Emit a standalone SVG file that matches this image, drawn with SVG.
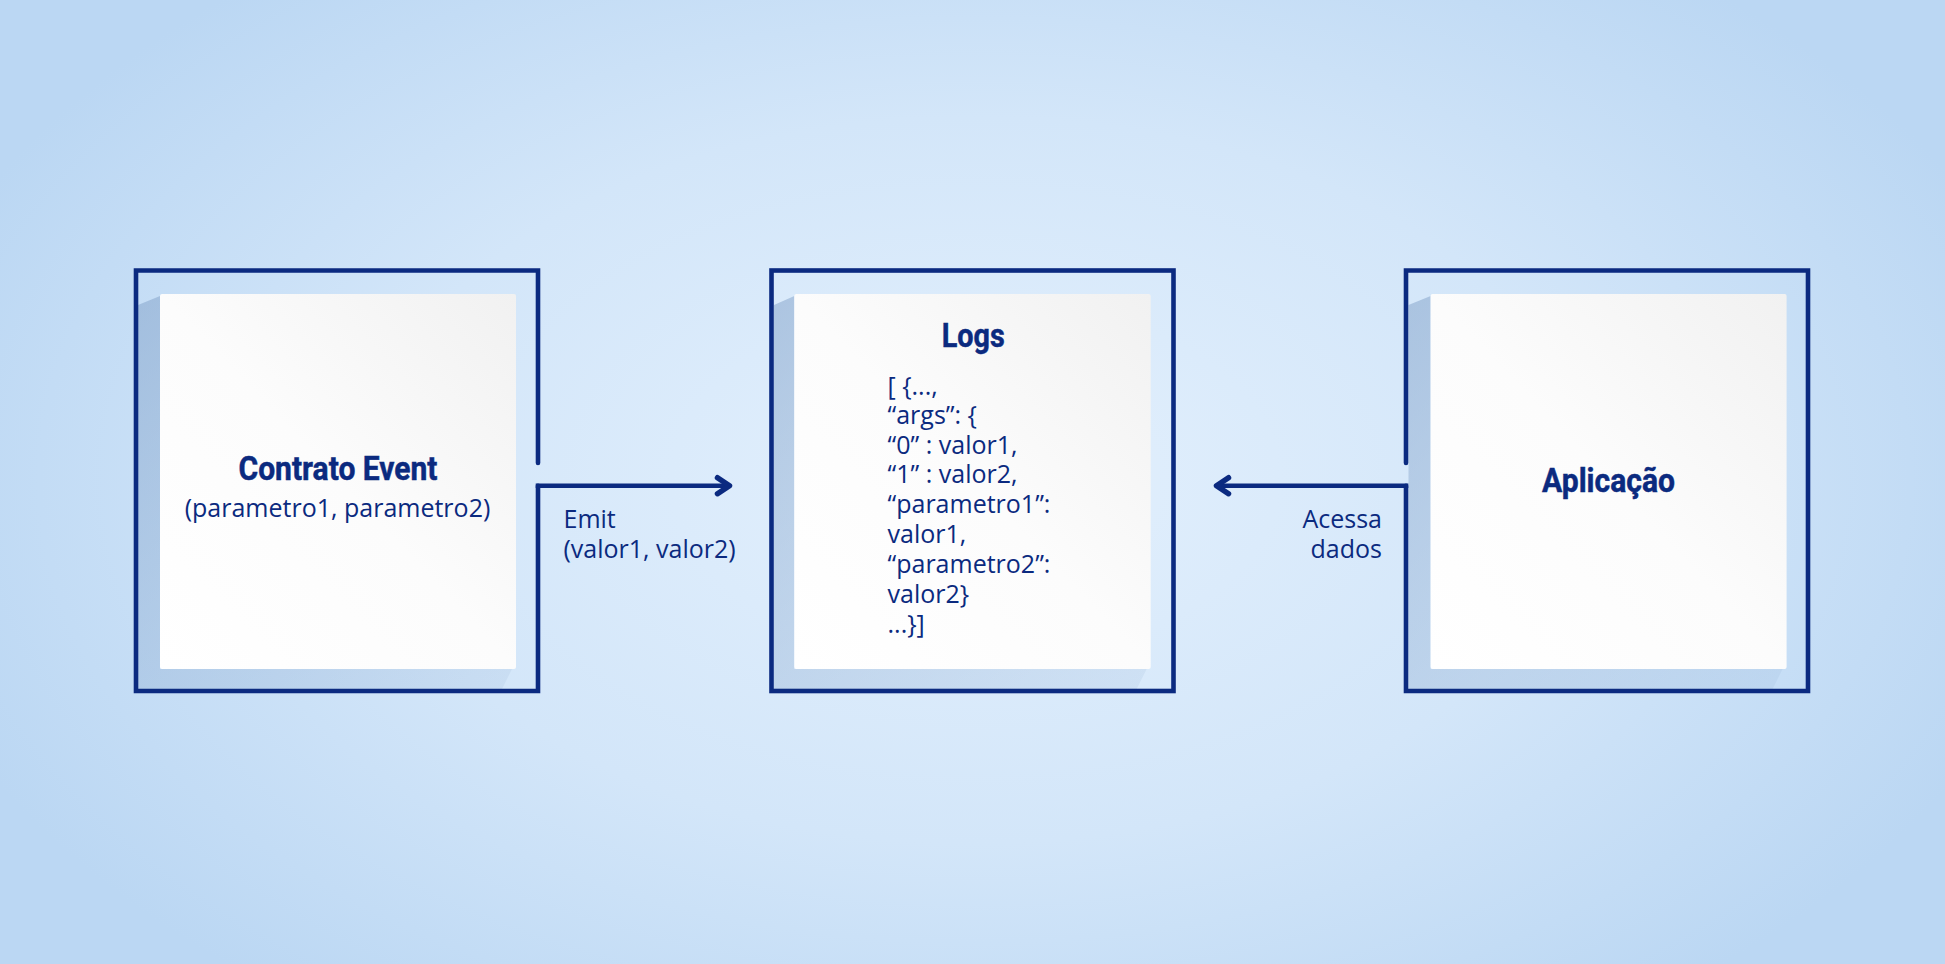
<svg xmlns="http://www.w3.org/2000/svg" width="1945" height="964" viewBox="0 0 1945 964">
<style>
.frame{fill:none;stroke:#0b2a80;stroke-width:4.6;stroke-linejoin:miter;stroke-linecap:round}
.conn{fill:none;stroke:#0b2a80;stroke-width:4.6;stroke-linecap:butt}
.head{fill:none;stroke:#0b2a80;stroke-width:5.5;stroke-linecap:round;stroke-linejoin:round}
.title{font-family:Roboto,"Liberation Sans",sans-serif;font-weight:700;font-size:34px;fill:#0b2a7f;text-anchor:middle;stroke:#0b2a7f;stroke-width:0.5}
.txt{font-family:"Open Sans","Noto Sans",sans-serif;font-size:25px;fill:#0b2a7f}
.card{fill:url(#cardG)}
.shadow{fill:url(#shG)}
</style>
<defs>
<radialGradient id="bg" gradientUnits="userSpaceOnUse" cx="975" cy="480" r="1100" gradientTransform="translate(975 480) scale(1 0.6) translate(-975 -480)">
<stop offset="0" stop-color="#e3f0fd"/>
<stop offset="0.55" stop-color="#d3e6f9"/>
<stop offset="1" stop-color="#bbd7f3"/>
</radialGradient>
<linearGradient id="cardG" x1="0" y1="1" x2="1" y2="0">
<stop offset="0" stop-color="#ffffff"/>
<stop offset="0.5" stop-color="#fcfcfc"/>
<stop offset="1" stop-color="#f1f1f1"/>
</linearGradient>
<linearGradient id="shG" x1="0" y1="0" x2="1" y2="1">
<stop offset="0" stop-color="#7f9fc7" stop-opacity="0.5"/>
<stop offset="0.5" stop-color="#7f9fc7" stop-opacity="0.28"/>
<stop offset="1" stop-color="#7f9fc7" stop-opacity="0.12"/>
</linearGradient>
</defs>
<rect width="1945" height="964" fill="url(#bg)"/>

<g id="node-contrato">
<path class="shadow" d="M160,296 L138,305 L138,689 L502,689 L512,669 L160,669 Z"/>
<rect class="card" x="160" y="294" width="356" height="375" rx="2"/>
<path class="frame" d="M538,463 V270.5 H136 V691 H538 V485.7"/>
<text class="title" x="338" y="480" textLength="199" lengthAdjust="spacingAndGlyphs">Contrato Event</text>
<text class="txt" x="337.5" y="516.7" text-anchor="middle">(parametro1, parametro2)</text>
</g>

<g id="node-logs">
<path class="shadow" d="M794.3,296 L774,305 L774,689 L1136.7,689 L1146.7,669 L794.3,669 Z"/>
<rect class="card" x="794.3" y="294" width="356.4" height="375" rx="2"/>
<rect class="frame" x="771.5" y="270.5" width="402" height="420.5"/>
<text class="title" x="973.3" y="346.7" textLength="63" lengthAdjust="spacingAndGlyphs">Logs</text>
<text class="txt" x="887.5">
<tspan x="887.5" y="395">[ {...,</tspan>
<tspan x="887.5" y="423.8">“args”: {</tspan>
<tspan x="887.5" y="453.5">“0” : valor1,</tspan>
<tspan x="887.5" y="483.4">“1” : valor2,</tspan>
<tspan x="887.5" y="513.4">“parametro1”:</tspan>
<tspan x="887.5" y="543.4">valor1,</tspan>
<tspan x="887.5" y="573.4">“parametro2”:</tspan>
<tspan x="887.5" y="603.4">valor2}</tspan>
<tspan x="887.5" y="633.4">...}]</tspan>
</text>
</g>

<g id="node-aplicacao">
<path class="shadow" d="M1430.6,296 L1408.5,305 L1408.5,689 L1772.6,689 L1782.6,669 L1430.6,669 Z"/>
<rect class="card" x="1430.6" y="294" width="356" height="375" rx="2"/>
<path class="frame" d="M1406,463 V270.5 H1808 V691 H1406 V485.7"/>
<text class="title" x="1608.5" y="491.5" textLength="133" lengthAdjust="spacingAndGlyphs">Aplicação</text>
</g>

<g id="connectors">
<path class="conn" d="M535.7,485.7 H728"/>
<path class="head" d="M717.5,477.7 L729.5,485.7 L717.5,493.7"/>
<text class="txt" x="563.5" y="528.3">Emit</text>
<text class="txt" x="563.5" y="558.3">(valor1, valor2)</text>

<path class="conn" d="M1408.3,485.7 H1218"/>
<path class="head" d="M1228.5,477.7 L1216.5,485.7 L1228.5,493.7"/>
<text class="txt" x="1382" y="528.3" text-anchor="end">Acessa</text>
<text class="txt" x="1382" y="558.3" text-anchor="end">dados</text>
</g>
</svg>
